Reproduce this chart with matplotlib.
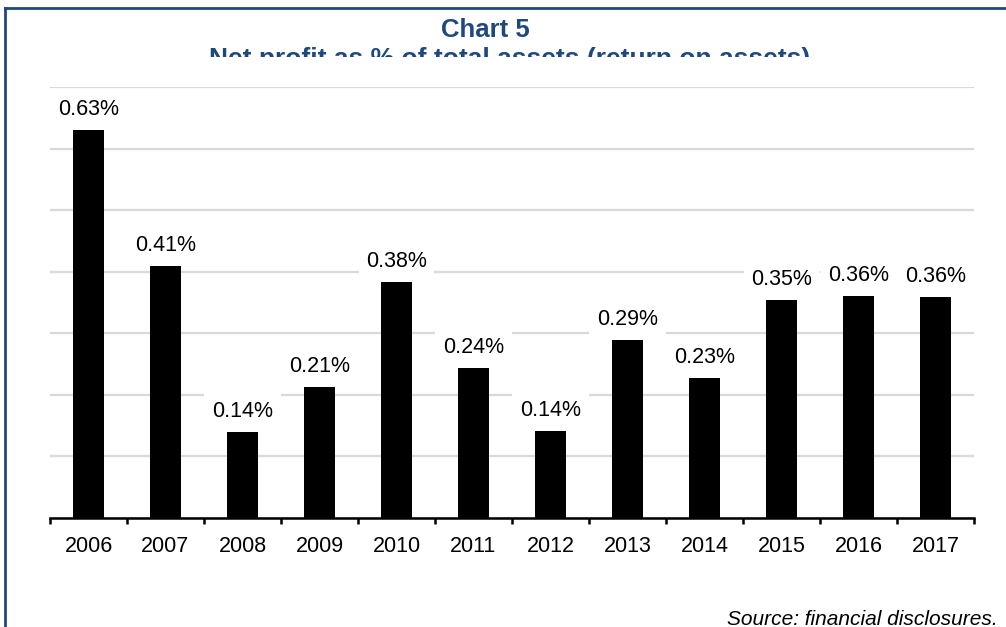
import matplotlib
matplotlib.use("Agg")
import matplotlib.pyplot as plt
from matplotlib.lines import Line2D
from matplotlib.transforms import Bbox, TransformedBbox

## Data (return on assets, %)
years = ["2006", "2007", "2008", "2009", "2010", "2011",
         "2012", "2013", "2014", "2015", "2016", "2017"]
roa = [0.63, 0.41, 0.14, 0.213, 0.384, 0.243,
       0.142, 0.289, 0.228, 0.354, 0.361, 0.359]

title = "Chart 5"
subtitle = "Net profit as % of total assets (return on assets)"
source = "Source: financial disclosures."

navy = "#1F497D"
W, H = 1006, 627

plt.rcParams["font.family"] = ["Liberation Sans", "DejaVu Sans"]

fig = plt.figure(figsize=(W / 100, H / 100), dpi=100)
ax = fig.add_axes([50 / W, 1 - 518 / H, 924 / W, (518 - 87) / H])

x = range(len(years))
ax.bar(x, roa, width=0.39, color="black", zorder=3)

for i, v in zip(x, roa):
    ax.annotate(f"{v:.2f}%", (i, v), xytext=(0, 10.8), textcoords="offset points",
                ha="center", va="baseline", fontsize=15.5, zorder=4,
                bbox=dict(boxstyle="square,pad=0.35", fc="white", ec="none"))

ax.set_xlim(-0.5, len(years) - 0.5)
ax.set_ylim(0, 0.7)
ax.set_yticks([0.1 * k for k in range(8)])
ax.tick_params(axis="y", length=0, labelleft=False)
ax.grid(axis="y", color="#D9D9D9", linewidth=1.6, zorder=0)
ax.set_axisbelow(True)

ax.set_xticks(list(x), labels=years)
ax.set_xticks([i - 0.5 for i in range(len(years) + 1)], minor=True)
ax.tick_params(axis="x", which="major", length=0, pad=13, labelsize=15.5)
ax.tick_params(axis="x", which="minor", length=4, width=1.8, color="black")

for s in ["left", "right", "top"]:
    ax.spines[s].set_visible(False)
ax.spines["bottom"].set_linewidth(1.8)
ax.spines["bottom"].set_zorder(5)

# frame around the chart (top and left edges visible)
fig.add_artist(Line2D([5 / W, 1.01], [1 - 8 / H, 1 - 8 / H], color=navy, lw=2))
fig.add_artist(Line2D([5 / W, 5 / W], [1 - 8 / H, -0.01], color=navy, lw=2))

fig.text(485 / W, 1 - 37 / H, title, ha="center", va="baseline",
         fontsize=18.5, fontweight="bold", color=navy)
# subtitle is cut off just below its x-height in the original
sub = fig.text(510 / W, 1 - 66 / H, subtitle, ha="center", va="baseline",
               fontsize=19, fontweight="bold", color=navy)
sub.set_clip_box(TransformedBbox(Bbox([[0, 1 - 57 / H], [1, 1]]), fig.transFigure))
sub.set_clip_on(True)

fig.text(998 / W, 1 - 625 / H, source, ha="right", va="baseline",
         fontsize=15, style="italic")

fig.savefig("out.png", dpi=100)
plt.close("all")
